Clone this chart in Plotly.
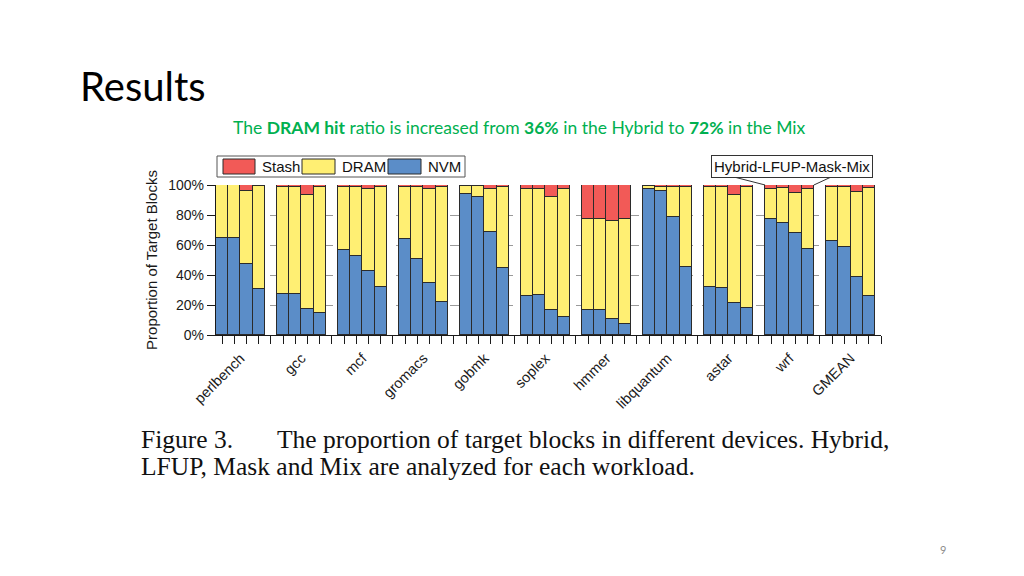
import plotly.graph_objects as go

workloads = ["perlbench", "gcc", "mcf", "gromacs", "gobmk", "soplex",
             "hmmer", "libquantum", "astar", "wrf", "GMEAN"]
configs = ["Hybrid", "LFUP", "Mask", "Mix"]

nvm = [64.9, 64.4, 47.1, 30.4,
       27.6, 27.1, 17.6, 14.7,
       56.7, 52.7, 42.7, 32.0,
       63.8, 50.9, 34.9, 22.0,
       93.8, 92.0, 68.7, 44.4,
       26.2, 26.9, 16.4, 12.2,
       16.9, 16.9, 10.7, 7.3,
       97.3, 95.8, 78.4, 45.1,
       32.0, 31.3, 21.1, 17.8,
       77.3, 74.9, 68.2, 57.6,
       62.9, 58.9, 38.9, 26.0]
dram = [34.8, 35.3, 49.1, 68.8,
        71.1, 71.6, 75.7, 84.0,
        42.2, 46.2, 54.6, 66.9,
        35.1, 48.0, 62.2, 76.9,
        5.7, 7.5, 28.9, 54.6,
        71.4, 70.7, 75.4, 85.4,
        60.2, 60.2, 65.3, 70.3,
        1.8, 3.2, 20.6, 53.6,
        66.4, 67.1, 72.5, 80.6,
        20.0, 22.9, 26.2, 40.0,
        36.0, 40.0, 56.7, 72.2]
stash = [0.3, 0.3, 3.8, 0.8,
         1.3, 1.3, 6.7, 1.3,
         1.1, 1.1, 2.7, 1.1,
         1.1, 1.1, 2.9, 1.1,
         0.5, 0.5, 2.4, 1.0,
         2.4, 2.4, 8.2, 2.4,
         22.9, 22.9, 24.0, 22.4,
         0.9, 1.0, 1.0, 1.3,
         1.6, 1.6, 6.4, 1.6,
         2.7, 2.2, 5.6, 2.4,
         1.1, 1.1, 4.4, 1.8]
ytick_vals = [0, 20, 40, 60, 80, 100]
ytick_text = ["0%", "20%", "40%", "60%", "80%", "100%"]

C_STASH = "#F25A57"
C_DRAM = "#FFEF73"
C_NVM = "#5B8DC8"
OUTLINE = "#2b2b2b"

n_cfg = len(configs)
slot = n_cfg + 1
xpos = [g * slot + k for g in range(len(workloads)) for k in range(n_cfg)]
hover = [f"{w} / {c}" for w in workloads for c in configs]

fig = go.Figure()
for name, vals, col in [("NVM", nvm, C_NVM), ("DRAM", dram, C_DRAM), ("Stash", stash, C_STASH)]:
    fig.add_trace(go.Bar(x=xpos, y=vals, name=name, width=1.0,
                         marker=dict(color=col, line=dict(color=OUTLINE, width=1)),
                         hovertext=hover, showlegend=False))

# page offset of the plot div (body margin) and plot area in screen pixels
OFF = 8
W, H = 1024 - OFF, 576 - OFF
L, R, T, B = 216, 881, 185, 335
def px(x):
    return (x - L) / (R - L)
def py(y):
    return (B - y) / (B - T)

n_slots = len(workloads) * slot - 1
group_centers = [g * slot + (n_cfg - 1) / 2 for g in range(len(workloads))]

fig.update_layout(
    width=W, height=H, autosize=False,
    margin=dict(l=L - OFF, r=1024 - R, t=T - OFF, b=576 - B, pad=0),
    paper_bgcolor="white", plot_bgcolor="white",
    barmode="stack", bargap=0,
    font=dict(family="Liberation Sans, Arial", color="#1a1a1a", size=14),
    xaxis=dict(range=[-0.5, n_slots], tickmode="array", tickvals=group_centers,
               ticktext=workloads, tickangle=-45, ticks="", showgrid=False,
               ticklabelstandoff=8,
               showline=True, linecolor="#1a1a1a", linewidth=1.3, zeroline=False,
               tickfont=dict(size=14.5, family="Liberation Sans, Arial"),
               minor=dict(tickmode="array", tickvals=list(range(n_slots + 1)),
                          ticks="outside", ticklen=8, tickwidth=1.3,
                          tickcolor="#1a1a1a", showgrid=False)),
    yaxis=dict(range=[0, 100], tickmode="array", tickvals=ytick_vals, ticktext=ytick_text,
               ticks="outside", ticklen=8, tickwidth=1.3, tickcolor="#1a1a1a",
               showline=True, linecolor="#1a1a1a", linewidth=1.3, showgrid=False,
               zeroline=False, tickfont=dict(size=14),
               title=dict(text="Proportion of Target Blocks", font=dict(size=15), standoff=6),
               minor=dict(tickmode="array", tickvals=[20, 40, 60, 80], showgrid=True,
                          gridcolor="#9a9a9a", griddash="dash", gridwidth=1, ticks="")),
)

shapes = []
annos = []
# custom legend (box + swatches)
shapes.append(dict(type="rect", xref="paper", yref="paper",
                   x0=px(217), x1=px(465), y0=py(177), y1=py(156),
                   line=dict(color="#555", width=1), fillcolor="white", layer="above"))
legend_items = [("Stash", C_STASH, 223, 255, 260),
                ("DRAM", C_DRAM, 302, 335, 340),
                ("NVM", C_NVM, 388, 421, 426)]
for name, col, sx0, sx1, tx in legend_items:
    shapes.append(dict(type="rect", xref="paper", yref="paper",
                       x0=px(sx0), x1=px(sx1), y0=py(174), y1=py(159),
                       line=dict(color=OUTLINE, width=1), fillcolor=col, layer="above"))
    annos.append(dict(text=name, xref="paper", yref="paper", x=px(tx), y=py(166.5),
                      xanchor="left", yanchor="middle", showarrow=False,
                      font=dict(size=15, family="Liberation Sans, Arial", color="#111")))

# Hybrid-LFUP-Mask-Mix callout pointing at wrf group
wrf_i = workloads.index("wrf")
wrf_left = wrf_i * slot - 0.5
wrf_right = wrf_i * slot + n_cfg - 0.5
annos.append(dict(text="Hybrid-LFUP-Mask-Mix", xref="paper", yref="paper",
                  x=px(791.5), y=py(166.5), xanchor="center", yanchor="middle",
                  showarrow=False, bordercolor="#333", borderwidth=1, borderpad=2,
                  bgcolor="white", font=dict(size=15, family="Liberation Sans, Arial", color="#111")))
shapes.append(dict(type="line", xref="x", yref="paper", x0=41.8, y0=py(176.5),
                   x1=wrf_left, y1=1.0, line=dict(color="#333", width=1)))
shapes.append(dict(type="line", xref="x", yref="paper", x0=50.0, y0=py(176.5),
                   x1=wrf_right, y1=1.0, line=dict(color="#333", width=1)))

# slide texts
annos.append(dict(text="Results", xref="paper", yref="paper", x=px(78), y=py(86),
                  xanchor="left", yanchor="middle", showarrow=False,
                  font=dict(size=40, family="Lato, Open Sans", color="#000")))
annos.append(dict(text="The <b>DRAM hit</b> ratio is increased from <b>36%</b> in the Hybrid to <b>72%</b> in the Mix",
                  xref="paper", yref="paper", x=px(519), y=py(127), xanchor="center",
                  yanchor="middle", showarrow=False,
                  font=dict(size=17.5, family="Lato, Open Sans", color="#00B050")))
annos.append(dict(text="Figure 3.", xref="paper", yref="paper", x=px(139), y=py(439),
                  xanchor="left", yanchor="middle", showarrow=False,
                  font=dict(size=25.5, family="Liberation Serif, Times New Roman", color="#111")))
annos.append(dict(text="The proportion of target blocks in different devices. Hybrid,",
                  xref="paper", yref="paper", x=px(891), y=py(439),
                  xanchor="right", yanchor="middle", showarrow=False,
                  font=dict(size=25.5, family="Liberation Serif, Times New Roman", color="#111")))
annos.append(dict(text="LFUP, Mask and Mix are analyzed for each workload.",
                  xref="paper", yref="paper", x=px(139), y=py(466),
                  xanchor="left", yanchor="middle", showarrow=False,
                  font=dict(size=25.5, family="Liberation Serif, Times New Roman", color="#111")))
annos.append(dict(text="9", xref="paper", yref="paper", x=px(943), y=py(549),
                  xanchor="center", yanchor="middle", showarrow=False,
                  font=dict(size=11, family="Lato, Open Sans", color="#8c8c8c")))

fig.update_layout(shapes=shapes, annotations=annos)
fig.write_html("out.html")
